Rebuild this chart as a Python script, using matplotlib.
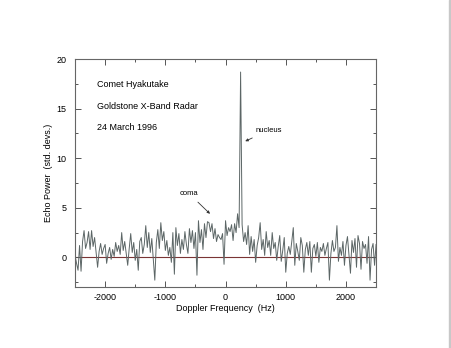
import numpy as np
from matplotlib import pyplot as plt
from matplotlib.patches import Rectangle
from matplotlib.ticker import MultipleLocator

plt.rcParams['font.family'] = ['Liberation Sans', 'DejaVu Sans']
plt.rcParams['axes.unicode_minus'] = False

# Doppler spectrum, 25 Hz bins from -2500 to +2500 Hz
freq = np.arange(-2500, 2501, 25)
power = [
    0.2, -0.6, -1.3, 1.2, -1.4, 1.6, 2.7, 0.9, 1.5, 2.6, 0.8, 2.7, 1.1, 2.0, 0.5, -1.0, 0.6, 1.4, 0.3, 0.9,
    1.3, -0.6, 0.4, 1.0, -0.2, 0.8, 0.1, 1.5, 0.6, 1.2, 0.3, 2.5, 0.7, 1.6, 0.4, -0.8, 0.9, 2.4, 0.5, 1.5,
    -0.3, 0.8, -1.3, 1.6, 2.0, 0.4, 1.3, 3.2, 1.0, 2.5, 0.5, 1.9, -0.2, -2.3, 1.5, 2.8, 0.9, 3.5, 1.7, 2.6,
    0.7, 1.7, 0.2, 1.0, -0.5, 2.5, -1.7, 3.0, 1.2, 2.4, 0.4, 1.8, 0.8, 2.6, 1.3, 0.4, 2.9, 1.5, 2.7, 0.9,
    2.5, -1.8, 3.7, 1.5, 2.8, 0.8, 3.4, 2.0, 3.6, 3.5, 2.6, 3.4, 1.9, 2.9, 1.6, 2.3, 2.0, 1.8, 2.4, -0.7,
    3.7, 2.2, 3.0, 2.6, 3.3, 1.7, 3.4, 2.5, 4.4, 3.0, 18.7, 3.3, 1.6, 2.5, 1.3, 3.2, 0.3, 2.1, 0.6, 1.8,
    -0.5, 1.2, 2.0, 3.5, 0.8, 1.8, 0.2, 2.6, 1.0, 1.7, 0.2, 2.5, 0.9, 1.5, -0.3, 1.1, 2.2, -0.4, 0.7, 2.0,
    -1.5, 0.4, 1.1, 0.3, 1.6, 3.0, -0.8, 1.4, 0.6, -0.3, 2.0, 1.2, -1.5, 0.8, 1.5, 0.2, 1.6, -1.5, 0.9, 1.3,
    0.1, 1.5, -0.5, 1.0, 0.6, 1.4, 0.2, 0.9, 1.5, -2.3, 0.4, 1.7, 0.6, 1.0, 3.2, -0.4, 1.0, 0.2, 1.6, -0.8,
    1.2, 2.1, 0.3, -1.6, 1.7, 0.5, 1.9, -1.0, 2.2, 1.4, -1.2, 1.6, 0.9, 1.3, -0.6, 2.1, -2.3, 0.8, 1.4, -0.8,
    1.3,
]
title_lines = ['Comet Hyakutake', 'Goldstone X-Band Radar', '24 March 1996']

fs = 6.5
fig = plt.figure(figsize=(4.52, 3.48), dpi=100, facecolor='w')
ax = fig.add_axes([0.166, 0.175, 0.666, 0.655])

ax.axhline(0, color='#7a3434', lw=0.8, zorder=1)
ax.plot(freq, power, color='#5c6666', lw=0.7, zorder=2)

ax.set_xlim(-2500, 2500)
ax.set_ylim(-3, 20)
ax.xaxis.set_major_locator(MultipleLocator(1000))
ax.xaxis.set_minor_locator(MultipleLocator(500))
ax.yaxis.set_major_locator(MultipleLocator(5))
ax.yaxis.set_minor_locator(MultipleLocator(2.5))
ax.tick_params(which='both', direction='in', top=True, right=True,
               labelsize=fs, color='#555555', width=0.7)
ax.tick_params(which='major', length=4, pad=4)
ax.tick_params(axis='y', which='major', pad=6)
ax.tick_params(which='minor', length=2)
for sp in ax.spines.values():
    sp.set_color('#666666')
    sp.set_linewidth(0.8)

ax.set_xlabel('Doppler Frequency  (Hz)', fontsize=fs, labelpad=2)
ax.set_ylabel('Echo Power  (std. devs.)', fontsize=fs, labelpad=3)

for y, s in zip([17.4, 15.2, 13.1], title_lines):
    ax.text(-2140, y, s, fontsize=fs, va='center', ha='left')

arrow = dict(arrowstyle='-|>', color='#333333', lw=0.6, mutation_scale=4)
ax.annotate('nucleus', xy=(285, 11.6), xytext=(490, 12.8),
            fontsize=fs - 1, va='center', ha='left', arrowprops=arrow)
ax.annotate('coma', xy=(-225, 4.2), xytext=(-600, 6.4),
            fontsize=fs - 1, va='center', ha='center', arrowprops=arrow)

# thin grey strip along the right edge
fig.patches.append(Rectangle((449 / 452, 0), 3 / 452, 1, transform=fig.transFigure,
                             color='#c8c8c8', zorder=0))

fig.savefig('out.png', dpi=100)
